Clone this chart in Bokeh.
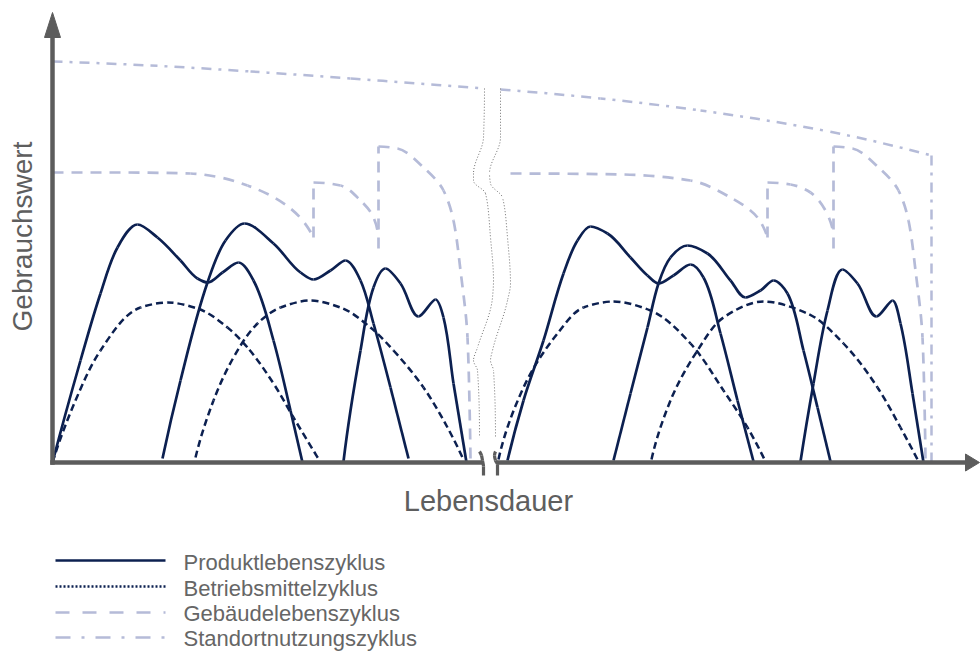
import numpy as np
from bokeh.plotting import figure
from bokeh.models import Range1d, ColumnDataSource
from bokeh.embed import file_html
from bokeh.resources import INLINE
from bokeh.core.properties import value

# ---------------- data (time axis X, use value Y; origin at the axes corner) ----------------
# Produktlebenszyklus (solid navy)
produkt_x = [
    [0, 28, 48, 65, 85, 105, 128, 145, 155, 170, 186, 201, 221, 238, 250],
    [110, 128, 155, 173, 192, 221, 248, 261, 278, 293, 308, 321, 338, 356],
    [291, 308, 321, 333, 348, 366, 383, 391, 401, 414],
    [455, 471, 491, 511, 525, 538, 555, 578, 595, 606, 621, 638, 651, 668, 685, 701],
    [561, 578, 595, 606, 618, 635, 655, 678, 693, 708, 721, 735, 751, 765, 778],
    [748, 761, 775, 790, 805, 824, 840, 848, 860, 871],
]
produkt_y = [
    [0, 102, 169, 215, 238, 225, 202, 184, 180, 190, 200, 182, 122, 52, 0],
    [4, 82, 180, 222, 239, 219, 190, 183, 192, 202, 182, 139, 75, 4],
    [1, 112, 175, 194, 179, 146, 163, 145, 79, 0],
    [2, 62, 122, 189, 222, 236, 229, 205, 187, 179, 187, 198, 185, 129, 62, 1],
    [2, 69, 135, 179, 205, 217, 209, 182, 165, 172, 182, 169, 112, 55, 1],
    [1, 79, 152, 193, 179, 146, 162, 139, 69, 0],
]

# Betriebsmittelzyklus (dashed navy)
betrieb_x = [
    [0, 23, 48, 88, 115, 145, 175, 195, 221, 241, 267],
    [143, 161, 181, 205, 228, 258, 288, 318, 341, 371, 395, 410],
    [446, 471, 505, 531, 561, 598, 638, 671, 695, 712],
    [599, 618, 645, 671, 711, 755, 791, 825, 848, 865],
]
betrieb_y = [
    [0, 62, 112, 155, 160, 154, 135, 115, 79, 45, 2],
    [5, 62, 105, 139, 155, 162, 155, 135, 112, 75, 35, 5],
    [3, 75, 129, 155, 161, 152, 119, 72, 35, 3],
    [3, 62, 112, 145, 161, 149, 119, 75, 35, 3],
]

# Gebäudelebenszyklus (dashed lavender): curved pieces and vertical jumps
gebaeude_x = [
    [0, 68, 138, 168, 195, 218, 238, 251, 261],
    [261, 288, 308, 320, 325],
    [326, 345, 371, 391, 401, 408, 415, 417, 418],
    [458, 571, 638, 678, 705, 715],
    [715, 738, 758, 773, 780],
    [781, 800, 826, 846, 856, 863, 870, 872, 873],
]
gebaeude_y = [
    [290, 290, 289, 285, 277, 267, 254, 241, 225],
    [280, 277, 262, 247, 232],
    [316, 314, 295, 272, 242, 192, 125, 59, 2],
    [289, 288, 282, 265, 245, 225],
    [280, 278, 270, 252, 234],
    [316, 314, 295, 272, 242, 192, 125, 59, 2],
]
gebaeude_jump_x = [261, 326, 715, 781]
gebaeude_jump_y0 = [225, 214, 225, 214]
gebaeude_jump_y1 = [280, 316, 280, 316]

# Standortnutzungszyklus (dash-dot lavender)
standort_x = [
    [0, 98, 198, 298, 432],
    [448, 548, 648, 771, 879],
]
standort_y = [
    [401, 397, 391, 384, 374],
    [373, 364, 352, 332, 307],
]
standort_end_x = [879]
standort_end_y0 = [307]
standort_end_y1 = [0]

# Wavy break lines
break_x = [
    [432, 431, 421, 421, 433, 438, 441, 440, 425, 421, 425, 427],
    [448, 448, 437, 438, 450, 455, 458, 455, 440, 438, 441, 443],
]
break_y = [
    [374, 325, 289, 282, 269, 225, 182, 165, 115, 102, 92, 25],
    [374, 325, 289, 279, 265, 225, 179, 162, 112, 102, 92, 25],
]
# Break marks on the time axis
mark_x = [[427, 429, 430, 431, 431], [443, 442, 443, 445, 445]]
mark_y = [[11, 7, 2, -4, -13], [11, 7, 2, -2, -13]]

legend_labels = ["Produktlebenszyklus", "Betriebsmittelzyklus",
                 "Gebäudelebenszyklus", "Standortnutzungszyklus"]

# ---------------- styles ----------------
NAVY = "#0c2050"
LAV = "#b5bbd8"
AXIS = "#5c5c5c"
TXT = "#5e5e5e"
FONT = value("Liberation Sans")


def pchip_slopes(t, v):
    t = np.asarray(t, float)
    v = np.asarray(v, float)
    n = len(t)
    h = np.diff(t)
    d = np.diff(v) / h
    m = np.zeros(n)
    if n == 2:
        m[:] = d[0]
        return m
    for k in range(1, n - 1):
        if d[k - 1] * d[k] > 0:
            w1 = 2 * h[k] + h[k - 1]
            w2 = h[k] + 2 * h[k - 1]
            m[k] = (w1 + w2) / (w1 / d[k - 1] + w2 / d[k])

    def end(h0, h1, d0, d1):
        mm = ((2 * h0 + h1) * d0 - h0 * d1) / (h0 + h1)
        if np.sign(mm) != np.sign(d0):
            mm = 0.0
        elif np.sign(d0) != np.sign(d1) and abs(mm) > abs(3 * d0):
            mm = 3 * d0
        return mm

    m[0] = end(h[0], h[1], d[0], d[1])
    m[-1] = end(h[-1], h[-2], d[-1], d[-2])
    return m


def smooth(p, xs, ys, period=None, **kw):
    xs = np.asarray(xs, float)
    ys = np.asarray(ys, float)
    seg = np.hypot(np.diff(xs), np.diff(ys))
    t = np.concatenate([[0.0], np.cumsum(seg)])
    mx = pchip_slopes(t, xs)
    my = pchip_slopes(t, ys)
    h = np.diff(t)
    cx0 = xs[:-1] + h / 3 * mx[:-1]
    cy0 = ys[:-1] + h / 3 * my[:-1]
    cx1 = xs[1:] - h / 3 * mx[1:]
    cy1 = ys[1:] - h / 3 * my[1:]
    poly = (np.hypot(cx0 - xs[:-1], cy0 - ys[:-1]) + np.hypot(cx1 - cx0, cy1 - cy0)
            + np.hypot(xs[1:] - cx1, ys[1:] - cy1))
    length = (seg + poly) / 2
    off = np.concatenate([[0.0], np.cumsum(length)[:-1]])
    if period:
        off = np.mod(off, period)
    src = ColumnDataSource(dict(x0=xs[:-1], y0=ys[:-1], x1=xs[1:], y1=ys[1:],
                                cx0=cx0, cy0=cy0, cx1=cx1, cy1=cy1,
                                off=np.round(off).astype(int)))
    args = dict(x0="x0", y0="y0", x1="x1", y1="y1", cx0="cx0", cy0="cy0",
                cx1="cx1", cy1="cy1", source=src)
    try:
        p.bezier(line_dash_offset="off", **args, **kw)
    except Exception:
        p.bezier(**args, **kw)


# page template has no body margin: canvas spans the whole 980x660 window
p = figure(width=980, height=660, output_backend="svg", toolbar_location=None,
           x_range=Range1d(-52, 928), y_range=Range1d(-198, 462),
           x_axis_location=None, y_axis_location=None, min_border=0,
           outline_line_color=None, background_fill_color="white",
           border_fill_color="white")
p.xgrid.visible = False
p.ygrid.visible = False

# Standort
for xs, ys in zip(standort_x, standort_y):
    smooth(p, xs, ys, period=34, line_color=LAV, line_width=2.5, line_dash="10 7 3 7")
p.segment(x0=standort_end_x, y0=standort_end_y0, x1=standort_end_x, y1=standort_end_y1,
          line_color=LAV, line_width=2.5, line_dash="10 7 3 7")

# Gebäude
for xs, ys in zip(gebaeude_x, gebaeude_y):
    smooth(p, xs, ys, period=19, line_color=LAV, line_width=2.7, line_dash="11 8")
p.segment(x0=gebaeude_jump_x, y0=gebaeude_jump_y0, x1=gebaeude_jump_x, y1=gebaeude_jump_y1,
          line_color=LAV, line_width=2.7, line_dash="11 8")

# wavy break lines
for xs, ys in zip(break_x, break_y):
    smooth(p, xs, ys, line_color="#707070", line_width=1, line_dash="1 2")

# Betriebsmittel
for xs, ys in zip(betrieb_x, betrieb_y):
    smooth(p, xs, ys, period=11, line_color=NAVY, line_width=2.5, line_dash="7 4")

# Produkt
for xs, ys in zip(produkt_x, produkt_y):
    smooth(p, xs, ys, line_color=NAVY, line_width=2.7)

# axes
p.line(x=[0, 0], y=[-2.25, 425], line_color=AXIS, line_width=4.5)
p.patch(x=[-8, 8, 0], y=[425, 425, 450], fill_color=AXIS, line_color=AXIS)
p.line(x=[-2.25, 430], y=[0, 0], line_color=AXIS, line_width=4.5)
p.line(x=[444, 914], y=[0, 0], line_color=AXIS, line_width=4.5)
p.patch(x=[913, 913, 927], y=[-8.5, 8.5, 0], fill_color=AXIS, line_color=AXIS)
for xs, ys in zip(mark_x, mark_y):
    smooth(p, xs, ys, line_color=AXIS, line_width=3.2)

# axis titles
p.text(x=[-30], y=[226], text=["Gebrauchswert"], angle=np.pi / 2, text_align="center",
       text_baseline="middle", text_font=FONT, text_font_size=value("28px"),
       text_color=TXT)
p.text(x=[436], y=[-38], text=["Lebensdauer"], text_align="center",
       text_baseline="middle", text_font=FONT, text_font_size=value("29px"),
       text_color=TXT)

# legend
leg_line_y = [-98, -124, -150, -175]
leg_text_y = [-100, -126, -151, -176]
p.line(x=[3, 113], y=[leg_line_y[0]] * 2, line_color=NAVY, line_width=2.7)
p.line(x=[3, 113], y=[leg_line_y[1]] * 2, line_color=NAVY, line_width=2.5, line_dash="2 2")
p.line(x=[3, 113], y=[leg_line_y[2]] * 2, line_color=LAV, line_width=2.7, line_dash="14 13")
p.line(x=[3, 113], y=[leg_line_y[3]] * 2, line_color=LAV, line_width=2.5, line_dash="15 11 3 11")
p.text(x=[131] * 4, y=leg_text_y, text=legend_labels, text_align="left",
       text_baseline="middle", text_font=FONT, text_font_size=value("22px"),
       text_color="#666666")

open("out.html", "w").write(file_html(p, INLINE))
